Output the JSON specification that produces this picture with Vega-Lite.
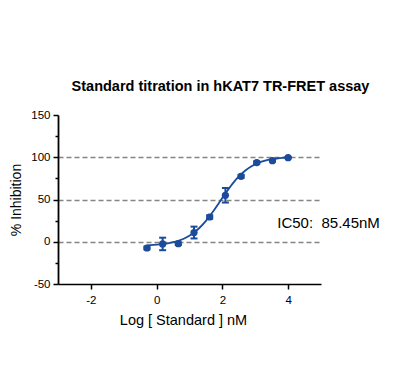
{
  "$schema": "https://vega.github.io/schema/vega-lite/v6.json",
  "width": 263,
  "height": 169,
  "autosize": {"type": "none"},
  "padding": {"left": 58, "top": 115, "right": 74, "bottom": 101},
  "background": "white",
  "title": {
    "text": "Standard titration in hKAT7 TR-FRET assay",
    "font": "Liberation Sans",
    "fontSize": 14.5,
    "fontWeight": "bold",
    "color": "black",
    "anchor": "middle",
    "dx": 31,
    "offset": 15
  },
  "config": {
    "view": {"stroke": null},
    "font": "Liberation Sans"
  },
  "datasets": {
    "curve": [
      {"x": -0.294, "y": -4.19}, {"x": -0.1, "y": -3.77}, {"x": 0.1, "y": -3.11},
      {"x": 0.3, "y": -2.10}, {"x": 0.5, "y": -0.56}, {"x": 0.7, "y": 1.71},
      {"x": 0.9, "y": 5.05}, {"x": 1.1, "y": 9.78}, {"x": 1.3, "y": 16.29},
      {"x": 1.5, "y": 24.69}, {"x": 1.7, "y": 34.83}, {"x": 1.9, "y": 46.15},
      {"x": 2.1, "y": 57.63}, {"x": 2.3, "y": 68.26}, {"x": 2.5, "y": 77.25},
      {"x": 2.7, "y": 84.35}, {"x": 2.9, "y": 89.62}, {"x": 3.1, "y": 93.36},
      {"x": 3.3, "y": 95.93}, {"x": 3.5, "y": 97.67}, {"x": 3.7, "y": 98.83},
      {"x": 3.85, "y": 99.4}, {"x": 4.0, "y": 99.9}
    ],
    "pts": [
      {"x": -0.294, "y": -7.4, "lo": -9.0, "hi": -5.8},
      {"x": 0.183, "y": -2.6, "lo": -10.0, "hi": 4.8},
      {"x": 0.660, "y": -2.3, "lo": -3.8, "hi": -0.8},
      {"x": 1.137, "y": 10.9, "lo": 3.9, "hi": 17.9},
      {"x": 1.614, "y": 29.3, "lo": 27.3, "hi": 31.3},
      {"x": 2.092, "y": 55.0, "lo": 46.4, "hi": 63.6},
      {"x": 2.569, "y": 77.4, "lo": 75.6, "hi": 79.2},
      {"x": 3.046, "y": 93.7, "lo": 92.2, "hi": 95.2},
      {"x": 3.523, "y": 96.0, "lo": 95.0, "hi": 97.0},
      {"x": 4.000, "y": 99.5, "lo": 98.7, "hi": 100.3}
    ],
    "lbl": [
      {"x": 3.67, "y": 22, "t": "IC50:\u00a0 85.45nM"}
    ]
  },
  "encoding": {
    "x": {
      "field": "x",
      "type": "quantitative",
      "scale": {"domain": [-3, 5], "nice": false, "zero": false},
      "axis": {
        "title": "Log [ Standard ] nM",
        "titleFont": "Liberation Sans",
        "titleFontSize": 14.5,
        "titleFontWeight": "normal",
        "titleColor": "black",
        "titlePadding": 8,
        "titleAnchor": "start",
        "titleAlign": "center",
        "titleX": 125,
        "values": [-2, 0, 2, 4],
        "labelExpr": "replace(datum.label, '\u2212', '-')",
        "labelFont": "Liberation Sans",
        "labelFontSize": 11.5,
        "labelColor": "black",
        "labelPadding": 5,
        "tickSize": 5,
        "tickWidth": 1.5,
        "tickColor": "black",
        "domainColor": "black",
        "domainWidth": 1.5,
        "grid": false
      }
    },
    "y": {
      "field": "y",
      "type": "quantitative",
      "scale": {"domain": [-50, 150], "nice": false, "zero": false},
      "axis": {
        "title": "% Inhibition",
        "titleFont": "Liberation Sans",
        "titleFontSize": 14,
        "titleFontWeight": "normal",
        "titleColor": "black",
        "titlePadding": 7,
        "values": [-50, -25, 0, 25, 50, 75, 100, 125, 150],
        "labelExpr": "datum.value % 50 === 0 ? replace(datum.label, '\u2212', '-') : ''",
        "labelFont": "Liberation Sans",
        "labelFontSize": 11.5,
        "labelColor": "black",
        "labelPadding": 3,
        "tickSize": {"condition": {"test": "datum.value % 50 === 0", "value": 5}, "value": 3},
        "tickWidth": 1.5,
        "tickColor": "black",
        "domainColor": "black",
        "domainWidth": 1.8,
        "grid": true,
        "gridColor": "#858585",
        "gridWidth": 1.5,
        "gridDash": [5, 3],
        "gridOpacity": {"condition": {"test": "datum.value >= 0 && datum.value <= 100 && datum.value % 50 === 0", "value": 1}, "value": 0}
      }
    }
  },
  "layer": [
    {
      "data": {"name": "curve"},
      "mark": {"type": "line", "color": "#1b4b9b", "strokeWidth": 1.8, "interpolate": "monotone"}
    },
    {
      "data": {"name": "pts"},
      "mark": {"type": "errorbar", "color": "#1b4b9b", "thickness": 2, "opacity": 1, "ticks": {"size": 7, "thickness": 2, "color": "#1b4b9b", "opacity": 1}, "rule": {"color": "#1b4b9b", "strokeWidth": 2, "opacity": 1}},
      "encoding": {
        "y": {"field": "lo", "type": "quantitative", "title": "% Inhibition"},
        "y2": {"field": "hi"}
      }
    },
    {
      "data": {"name": "pts"},
      "mark": {"type": "point", "filled": true, "shape": "circle", "size": 52, "color": "#1b4b9b", "opacity": 1}
    },
    {
      "data": {"name": "lbl"},
      "mark": {"type": "text", "align": "left", "baseline": "middle", "font": "Liberation Sans", "fontSize": 15, "color": "black", "clip": false},
      "encoding": {"text": {"field": "t"}}
    }
  ]
}
